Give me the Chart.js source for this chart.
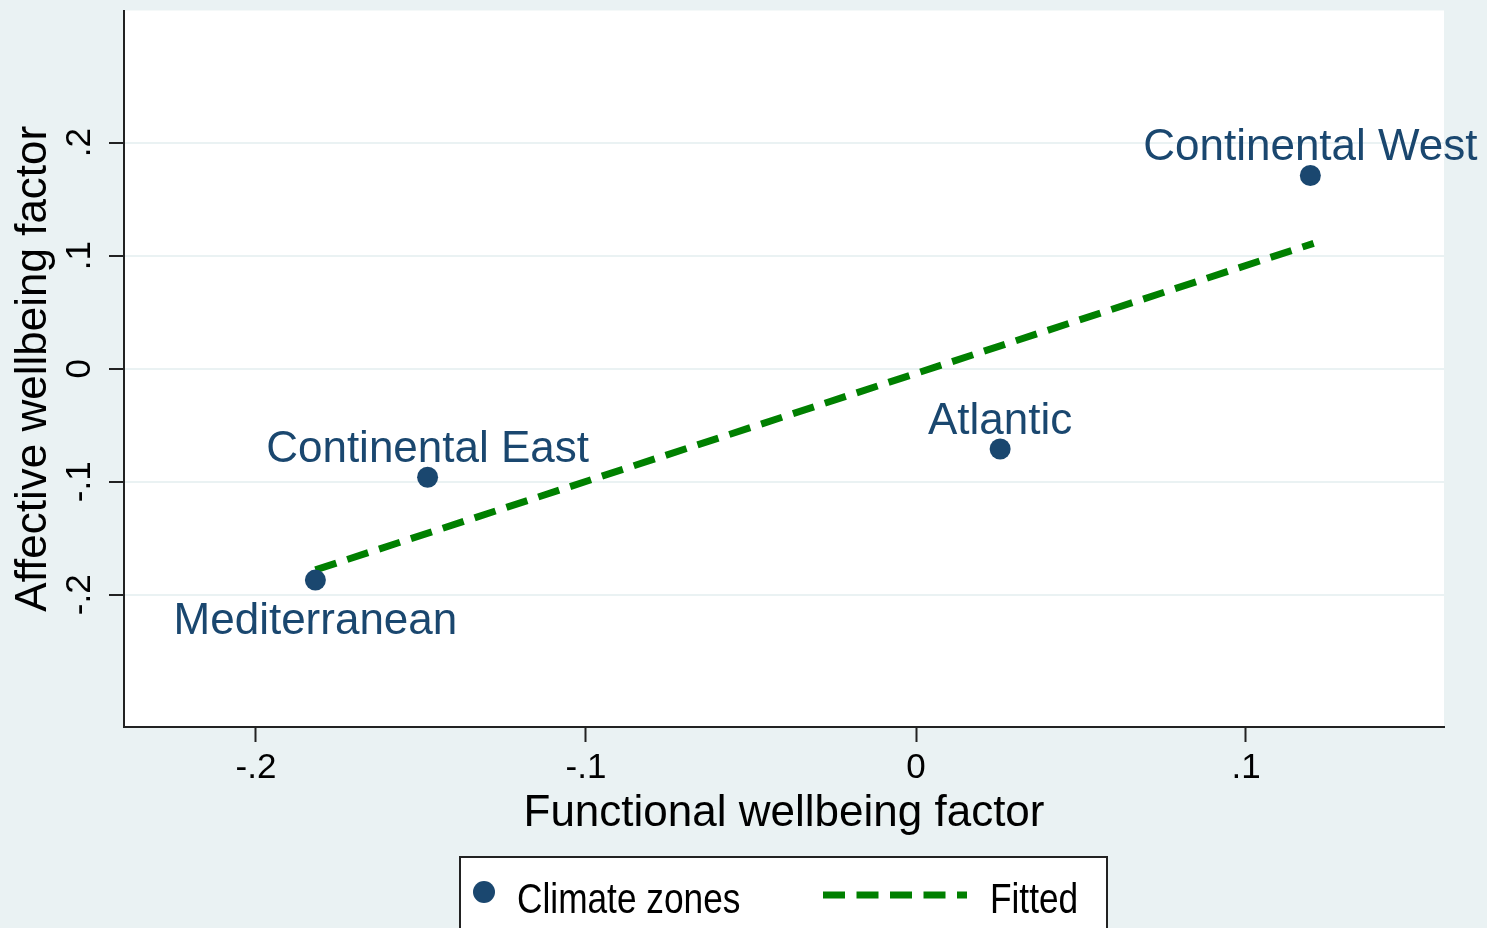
<!DOCTYPE html>
<html>
<head>
<meta charset="utf-8">
<script src="https://cdn.jsdelivr.net/npm/chart.js@4.4.1/dist/chart.umd.min.js"></script>
<style>
  html, body { margin: 0; padding: 0; background: #eaf2f3; }
  canvas { display: block; }
</style>
</head>
<body>
<canvas id="myChart" width="1487" height="928"></canvas>
<script>
// data
const zones = ['Mediterranean', 'Continental East', 'Atlantic', 'Continental West'];
const functional = [-0.182, -0.148, 0.0255, 0.1195];
const affective = [-0.187, -0.096, -0.071, 0.171];
const labelPos = ['below', 'above', 'above', 'above'];

const fitX = [-0.182, 0.1205];
const fitY = [-0.178, 0.111];

const xTicks = [-0.2, -0.1, 0, 0.1];
const yTicks = [-0.2, -0.1, 0, 0.1, 0.2];

const FONT = '"Liberation Sans", Arial, Helvetica, sans-serif';
const NAVY = '#1a476f';
const GREEN = '#008000';
const BG = '#eaf2f3';

// Stata style tick labels: -.2, .1, 0
function stataNum(v) {
    if (Math.abs(v) < 1e-9) return '0';
    let s = String(Math.round(v * 10) / 10);
    return s.replace('0.', '.');
}

const scatterPoints = functional.map((x, i) => ({ x: x, y: affective[i] }));
const fitPoints = fitX.map((x, i) => ({ x: x, y: fitY[i] }));

// background + white plot region
const backgroundPlugin = {
    id: 'background',
    beforeDraw(chart) {
        const { ctx, chartArea } = chart;
        ctx.save();
        ctx.fillStyle = BG;
        ctx.fillRect(0, 0, chart.width, chart.height);
        ctx.fillStyle = '#ffffff';
        ctx.fillRect(chartArea.left, chartArea.top, chartArea.right - chartArea.left, chartArea.bottom - chartArea.top);
        ctx.restore();
    }
};

// marker labels
const pointLabelPlugin = {
    id: 'pointLabels',
    afterDatasetsDraw(chart) {
        const { ctx } = chart;
        const meta = chart.getDatasetMeta(0);
        ctx.save();
        ctx.font = '44px ' + FONT;
        ctx.fillStyle = NAVY;
        ctx.textAlign = 'center';
        ctx.textBaseline = 'alphabetic';
        meta.data.forEach((pt, i) => {
            const y = labelPos[i] === 'below' ? pt.y + 54 : pt.y - 15;
            ctx.fillText(zones[i], pt.x, y);
        });
        ctx.restore();
    }
};

// boxed legend at the bottom
const boxLegendPlugin = {
    id: 'boxLegend',
    afterDraw(chart) {
        const { ctx } = chart;
        const ds = chart.data.datasets;
        ctx.save();
        ctx.fillStyle = '#ffffff';
        ctx.fillRect(460, 857, 647, 90);
        ctx.strokeStyle = '#222222';
        ctx.lineWidth = 2;
        ctx.strokeRect(460, 857, 647, 90);

        ctx.fillStyle = ds[0].backgroundColor;
        ctx.beginPath();
        ctx.arc(484, 892, 11, 0, Math.PI * 2);
        ctx.fill();

        ctx.strokeStyle = ds[1].borderColor;
        ctx.lineWidth = ds[1].borderWidth;
        ctx.setLineDash(ds[1].borderDash);
        ctx.beginPath();
        ctx.moveTo(823, 895);
        ctx.lineTo(967, 895);
        ctx.stroke();
        ctx.setLineDash([]);

        ctx.fillStyle = '#000000';
        ctx.font = '43px ' + FONT;
        ctx.textBaseline = 'alphabetic';
        ctx.textAlign = 'left';
        [[517, ds[0].label], [990, ds[1].label]].forEach(([x, txt]) => {
            ctx.save();
            ctx.translate(x, 913);
            ctx.scale(0.82, 1);
            ctx.fillText(txt, 0, 0);
            ctx.restore();
        });
        ctx.restore();
    }
};

const ctx = document.getElementById('myChart').getContext('2d');

const myChart = new Chart(ctx, {
    type: 'scatter',
    data: {
        datasets: [{
            label: 'Climate zones',
            data: scatterPoints,
            backgroundColor: NAVY,
            borderColor: NAVY,
            pointRadius: 10.5,
            pointHoverRadius: 10.5,
            borderWidth: 0
        }, {
            type: 'line',
            label: 'Fitted',
            data: fitPoints,
            borderColor: GREEN,
            borderWidth: 7,
            borderDash: [22, 11.5],
            borderCapStyle: 'butt',
            pointRadius: 0,
            fill: false,
            tension: 0
        }]
    },
    options: {
        responsive: false,
        animation: false,
        devicePixelRatio: 1,
        layout: { padding: { top: 7, right: 43, left: 0, bottom: 0 } },
        plugins: {
            legend: { display: false },
            tooltip: { enabled: false }
        },
        scales: {
            x: {
                type: 'linear',
                min: -0.24,
                max: 0.16,
                afterBuildTicks: (scale) => { scale.ticks = xTicks.map(v => ({ value: v })); },
                afterFit: (scale) => {
                    scale.height = 201;
                    scale.paddingLeft = 0;
                    scale.paddingRight = 0;
                },
                grid: {
                    display: true,
                    drawOnChartArea: false,
                    drawTicks: true,
                    tickLength: 15,
                    tickColor: '#222222',
                    tickWidth: 2
                },
                border: { display: true, color: '#222222', width: 2 },
                ticks: {
                    font: { family: FONT, size: 35 },
                    color: '#000000',
                    padding: 5,
                    maxRotation: 0,
                    callback: (v) => stataNum(v)
                },
                title: {
                    display: true,
                    text: 'Functional wellbeing factor',
                    font: { family: FONT, size: 44 },
                    color: '#000000',
                    padding: { top: 0, bottom: 88 }
                }
            },
            y: {
                type: 'linear',
                min: -0.317,
                max: 0.317,
                afterBuildTicks: (scale) => { scale.ticks = yTicks.map(v => ({ value: v })); },
                afterFit: (scale) => {
                    scale.width = 124;
                    scale.paddingTop = 0;
                    scale.paddingBottom = 0;
                },
                grid: {
                    display: true,
                    drawOnChartArea: true,
                    color: BG,
                    lineWidth: 2,
                    drawTicks: true,
                    tickLength: 15,
                    tickColor: '#222222',
                    tickWidth: 2
                },
                border: { display: true, color: '#222222', width: 2 },
                ticks: {
                    font: { family: FONT, size: 35 },
                    color: '#000000',
                    padding: 8,
                    minRotation: 90,
                    maxRotation: 90,
                    crossAlign: 'center',
                    callback: (v) => stataNum(v)
                },
                title: {
                    display: true,
                    text: 'Affective wellbeing factor',
                    font: { family: FONT, size: 44 },
                    color: '#000000',
                    padding: { top: 7, bottom: 0 }
                }
            }
        }
    },
    plugins: [backgroundPlugin, pointLabelPlugin, boxLegendPlugin]
});
</script>
</body>
</html>
